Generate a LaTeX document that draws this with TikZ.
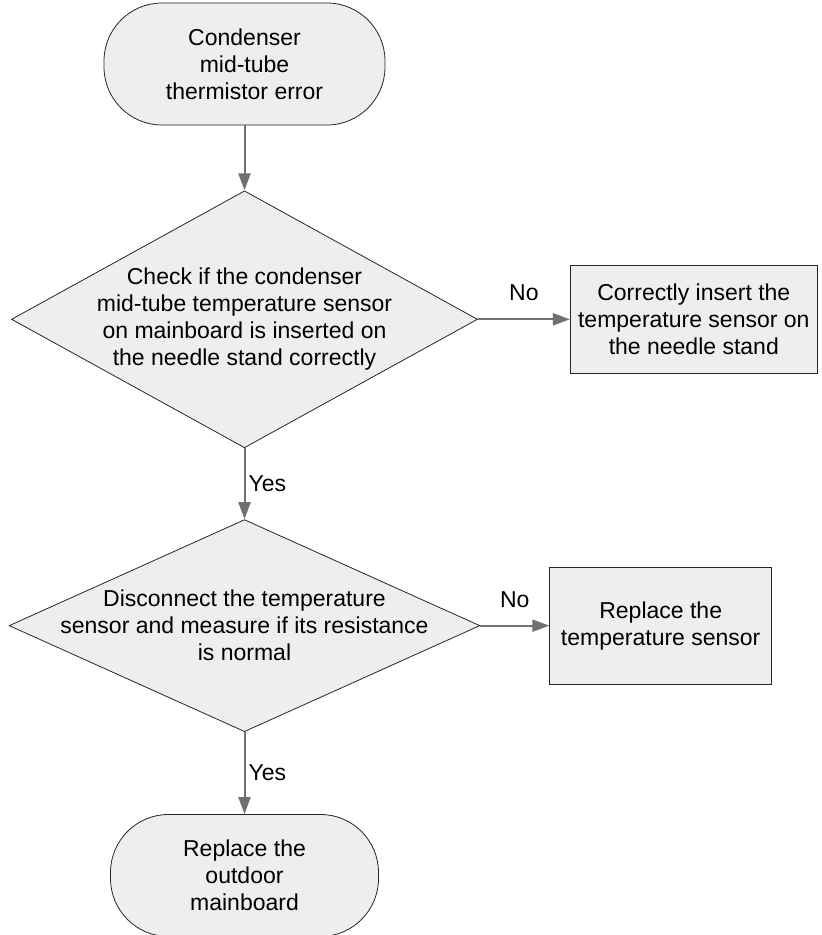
\documentclass[tikz,border=0pt]{standalone}
\usepackage{fontspec}
\setmainfont{Liberation Sans}
\usetikzlibrary{arrows.meta,positioning,shapes.geometric}
\definecolor{boxfill}{HTML}{EEEEEE}
\definecolor{arrgray}{HTML}{707070}
\tikzset{
  blk/.style={draw=black!85, line width=0.8pt, fill=boxfill, align=center, font=\fontsize{23}{27}\selectfont},
  term/.style={blk, rounded corners=58pt, minimum height=122pt},
  dec/.style={blk, diamond},
  act/.style={blk, inner sep=4pt},
  arr/.style={-{Triangle[length=17pt,width=12pt]}, line width=2pt, draw=arrgray},
  yes/.style={right, inner sep=3pt, font=\fontsize{23}{27}\selectfont},
  no/.style={above=14pt, font=\fontsize{23}{27}\selectfont},
}

\begin{document}
\begin{tikzpicture}
\useasboundingbox (0,0) rectangle (822pt,-935pt);
\node[term, minimum width=281pt] (err) at (244.5pt,-64pt) {Condenser\\mid-tube\\thermistor error};
\node[dec, aspect=1.81, inner sep=-4pt, minimum width=466pt, minimum height=257pt, below=65pt of err] (chk)
  {Check if the condenser\\mid-tube temperature sensor\\on mainboard is inserted on\\the needle stand correctly};
\node[act, minimum width=247pt, minimum height=108pt, right=92pt of chk] (ins)
  {Correctly insert the\\temperature sensor on\\the needle stand};
\node[dec, aspect=2.22, inner sep=-8.5pt, minimum width=468pt, minimum height=211pt, below=71pt of chk] (res)
  {Disconnect the temperature\\sensor and measure if its resistance\\is normal};
\node[act, minimum width=222pt, minimum height=117pt, right=69pt of res] (rep)
  {Replace the\\temperature sensor};
\node[term, minimum width=268pt, below=82pt of res] (mb) {Replace the\\outdoor\\mainboard};
\draw[arr] (err)--(chk);
\foreach \a/\b in {chk/res,res/mb} \draw[arr] (\a)--node[yes]{Yes} (\b);
\foreach \a/\b in {chk/ins,res/rep} \draw[arr] (\a)--node[no]{No} (\b);
\end{tikzpicture}
\end{document}
